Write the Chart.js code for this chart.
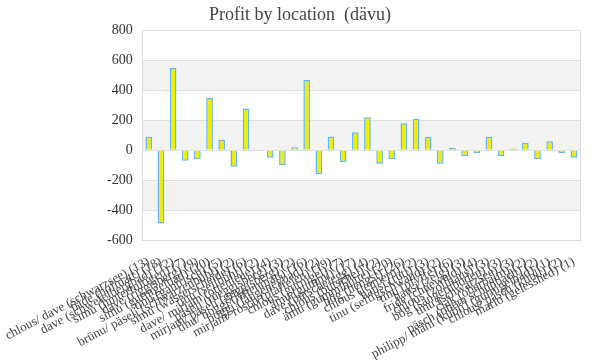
<!DOCTYPE html>
<html>
<head>
<meta charset="utf-8">
<script src="https://cdn.jsdelivr.net/npm/chart.js@4"></script>
<style>
html,body{margin:0;padding:0;background:#fff;}
#wrap{width:600px;height:360px;}
</style>
</head>
<body>
<div id="wrap"><canvas id="c" width="600" height="360"></canvas></div>
<script>
const categories = [
  "chlous/ dave (schwarzsee) (13)",
  "fride (hofmatt) (18)",
  "dave (schwefelbergbad) (12)",
  "simu (hinterfultigen) (7)",
  "dave (riggisberg) (9)",
  "simu (gurnigelbad) (10)",
  "tinu (gantrisch) (5)",
  "brünu/ päseli (schwarzenbühl) (2)",
  "simu (wasserscheide) (6)",
  "tinu (selibühl) (2)",
  "dave/ mirjam (ottenleue) (4)",
  "päseli (rüeggisberg) (3)",
  "mirjam/ päseli (guggisberg) (2)",
  "tinu/ boggi (riffenmatt) (16)",
  "boggi (längeneybad) (2)",
  "mirjam/ rösch (plaffeien) (19)",
  "chlous (gurnigel) (7)",
  "ämu (gummi) (17)",
  "dave (bütschelegg) (4)",
  "chlous (bütschel) (2)",
  "ämu (gummihütte) (20)",
  "bög (hengst) (26)",
  "chlous (leimern) (2)",
  "hansi (rüti) (3)",
  "tinu (seftigschwand) (2)",
  "tinu (pfyffe) (6)",
  "hansi (zelg) (3)",
  "fride (chüeweid) (4)",
  "chlous (zollhaus) (3)",
  "bög (sangernboden) (3)",
  "tinu (schwarzsee) (3)",
  "clak (oberbalm) (2)",
  "päsch (obem schüpbach) (2)",
  "philipp/ mäni (kübli) (gurnigelbad) (1)",
  "chlous/ päsch (kübli) (2)",
  "mario (gelesshed) (1)"
];
const profitValues = [
  90, -490, 550, -70, -60, 350, 70, -110, 280, 2,
  -50, -100, 20, 470, -160, 90, -80, 120, 220, -90,
  -60, 180, 210, 90, -90, 15, -40, -20, 90, -40,
  12, 50, -60, 60, -20, -50
];
const yTickMin = -600;
const yTickMax = 800;
const yTickStep = 200;

const bandsPlugin = {
  id: 'bands',
  beforeDraw(chart) {
    const {ctx, chartArea, scales} = chart;
    const y = scales.y;
    const ticks = y.ticks.map(t => t.value).sort((a, b) => a - b);
    ctx.save();
    ctx.fillStyle = '#f3f3f3';
    for (let i = 1; i < ticks.length - 1; i += 2) {
      const top = y.getPixelForValue(ticks[i + 1]);
      const bot = y.getPixelForValue(ticks[i]);
      ctx.fillRect(chartArea.left, top, chartArea.right - chartArea.left, bot - top);
    }
    ctx.restore();
  },
  afterDraw(chart) {
    const {ctx, chartArea} = chart;
    ctx.save();
    ctx.strokeStyle = '#dadada';
    ctx.lineWidth = 1;
    ctx.beginPath();
    ctx.moveTo(Math.round(chartArea.right) + 0.5, chartArea.top);
    ctx.lineTo(Math.round(chartArea.right) + 0.5, chartArea.bottom);
    ctx.stroke();
    ctx.restore();
  }
};

new Chart(document.getElementById('c'), {
  type: 'bar',
  data: {
    labels: categories,
    datasets: [{
      label: 'Profit',
      data: profitValues,
      backgroundColor: '#eeee00',
      borderColor: '#64b5f6',
      borderWidth: 1.5,
      barPercentage: 0.55,
      categoryPercentage: 1.0
    }]
  },
  options: {
    responsive: false,
    animation: false,
    plugins: {
      legend: { display: false },
      tooltip: { enabled: false },
      title: {
        display: true,
        text: 'Profit by location  (dävu)',
        color: '#444',
        font: { family: '"Liberation Serif", serif', size: 18, weight: 'normal' },
        padding: { top: 4, bottom: 5 }
      }
    },
    scales: {
      x: {
        grid: { display: false },
        border: { display: true, color: '#dadada' },
        ticks: {
          autoSkip: false,
          minRotation: 28,
          maxRotation: 28,
          color: '#444',
          padding: 6,
          font: { family: '"Liberation Serif", serif', size: 13 }
        },
        afterFit(scale) { scale.height = 120; scale.paddingRight = 20; }
      },
      y: {
        min: yTickMin,
        max: yTickMax,
        grid: { color: '#e0e0e0', drawTicks: false },
        border: { display: true, color: '#dadada' },
        ticks: {
          stepSize: yTickStep,
          color: '#333',
          padding: 10,
          font: { family: '"Liberation Serif", serif', size: 14 }
        }
      }
    }
  },
  plugins: [bandsPlugin]
});
</script>
</body>
</html>
